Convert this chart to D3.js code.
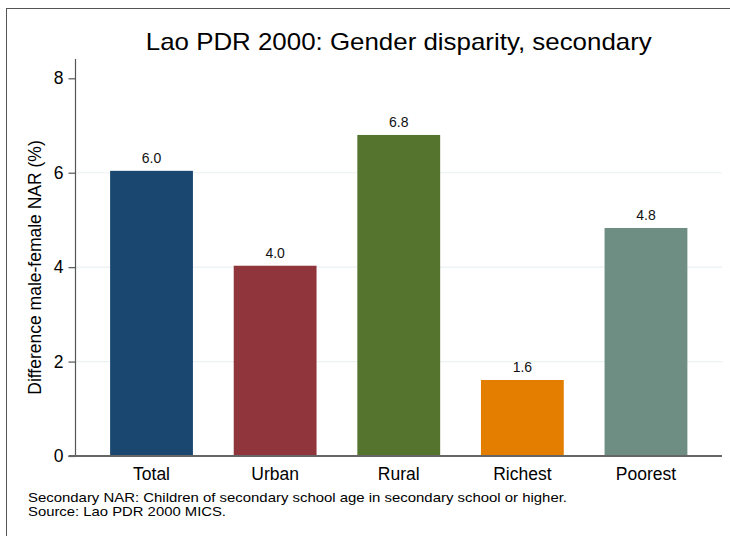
<!DOCTYPE html>
<html>
<head>
<meta charset="utf-8">
<script src="https://cdn.jsdelivr.net/npm/d3@7"></script>
<style>
  body { margin: 0; background: #fff; }
  svg { display: block; font-family: "Liberation Sans", Arial, sans-serif; }
</style>
</head>
<body>
<script>
// data
const categories = ['Total', 'Urban', 'Rural', 'Richest', 'Poorest'];
const values = [6.04, 4.03, 6.8, 1.61, 4.83];
const barColors = ['#1a476f', '#90353b', '#55752f', '#e37e00', '#6e8e84'];
const yTicks = [0, 2, 4, 6, 8];
const titleText = 'Lao PDR 2000: Gender disparity, secondary';
const yLabel = 'Difference male-female NAR (%)';
const notes = ['Secondary NAR: Children of secondary school age in secondary school or higher.',
               'Source: Lao PDR 2000 MICS.'];
const noteWidths = [539, 198];

const W = 730, H = 536;
const plot = {left: 75.5, right: 722, top: 59, bottom: 456};

const svg = d3.select('body').append('svg')
    .attr('width', W)
    .attr('height', H);

// outer frame (right/bottom fall outside the window)
svg.append('rect')
    .attr('x', 6.5).attr('y', 8.5)
    .attr('width', W + 10).attr('height', H + 10)
    .attr('fill', '#fff')
    .attr('stroke', '#555').attr('stroke-width', 1);

const x = d3.scaleBand()
    .domain(categories)
    .range([plot.left, plot.right])
    .paddingInner(0.33)
    .paddingOuter(0.28);

const y = d3.scaleLinear()
    .domain([0, 8])
    .range([plot.bottom, 78.3]);

// gridlines
svg.append('g')
  .selectAll('line')
  .data(yTicks.filter(t => t > 0 && t < 8))
  .join('line')
    .attr('x1', plot.left).attr('x2', plot.right)
    .attr('y1', d => y(d)).attr('y2', d => y(d))
    .attr('stroke', '#eaf2f3').attr('stroke-width', 1.2);

// bars
svg.append('g')
  .selectAll('rect')
  .data(values)
  .join('rect')
    .attr('x', (d, i) => x(categories[i]))
    .attr('y', d => y(d))
    .attr('width', x.bandwidth())
    .attr('height', d => y(0) - y(d))
    .attr('fill', (d, i) => barColors[i]);

// value labels
svg.append('g')
  .selectAll('text')
  .data(values)
  .join('text')
    .attr('x', (d, i) => x(categories[i]) + x.bandwidth() / 2)
    .attr('y', d => y(d) - 8)
    .attr('text-anchor', 'middle')
    .attr('font-size', 14)
    .attr('fill', '#111')
    .text(d => d3.format('.1f')(d));

// y axis
const yAxis = svg.append('g')
    .attr('transform', `translate(${plot.left},0)`)
    .call(d3.axisLeft(y).tickValues(yTicks).tickSize(7).tickPadding(5).tickFormat(d3.format('d')));
yAxis.select('.domain').remove();
yAxis.append('line')
    .attr('x1', 0).attr('x2', 0)
    .attr('y1', plot.top).attr('y2', plot.bottom)
    .attr('stroke', '#555').attr('stroke-width', 1.2);
yAxis.selectAll('.tick line').attr('stroke', '#555').attr('stroke-width', 1.2);
yAxis.selectAll('.tick text')
    .attr('font-size', 17.5)
    .attr('fill', '#000')
    .attr('font-family', '"Liberation Sans", Arial, sans-serif');

// x axis baseline
const xAxis = svg.append('g')
    .attr('transform', `translate(0,${plot.bottom})`)
    .call(d3.axisBottom(x).tickSize(0).tickPadding(12));
xAxis.select('.domain').remove();
xAxis.append('line')
    .attr('x1', plot.left - 7).attr('x2', plot.right)
    .attr('stroke', '#666').attr('stroke-width', 2);
xAxis.selectAll('.tick text')
    .attr('font-size', 17.5)
    .attr('fill', '#000')
    .attr('font-family', '"Liberation Sans", Arial, sans-serif');

// title
svg.append('text')
    .attr('x', (plot.left + plot.right) / 2)
    .attr('y', 50)
    .attr('text-anchor', 'middle')
    .attr('font-size', 24)
    .attr('textLength', 506)
    .attr('lengthAdjust', 'spacingAndGlyphs')
    .attr('fill', '#000')
    .text(titleText);

// y axis title
svg.append('text')
    .attr('transform', `translate(41,${(plot.top + plot.bottom) / 2 + 10}) rotate(-90)`)
    .attr('text-anchor', 'middle')
    .attr('font-size', 17.5)
    .attr('fill', '#000')
    .text(yLabel);

// notes
svg.append('g')
  .selectAll('text')
  .data(notes)
  .join('text')
    .attr('x', 28)
    .attr('y', (d, i) => 502 + i * 14)
    .attr('font-size', 13)
    .attr('textLength', (d, i) => noteWidths[i])
    .attr('lengthAdjust', 'spacingAndGlyphs')
    .attr('fill', '#000')
    .text(d => d);
</script>
</body>
</html>
